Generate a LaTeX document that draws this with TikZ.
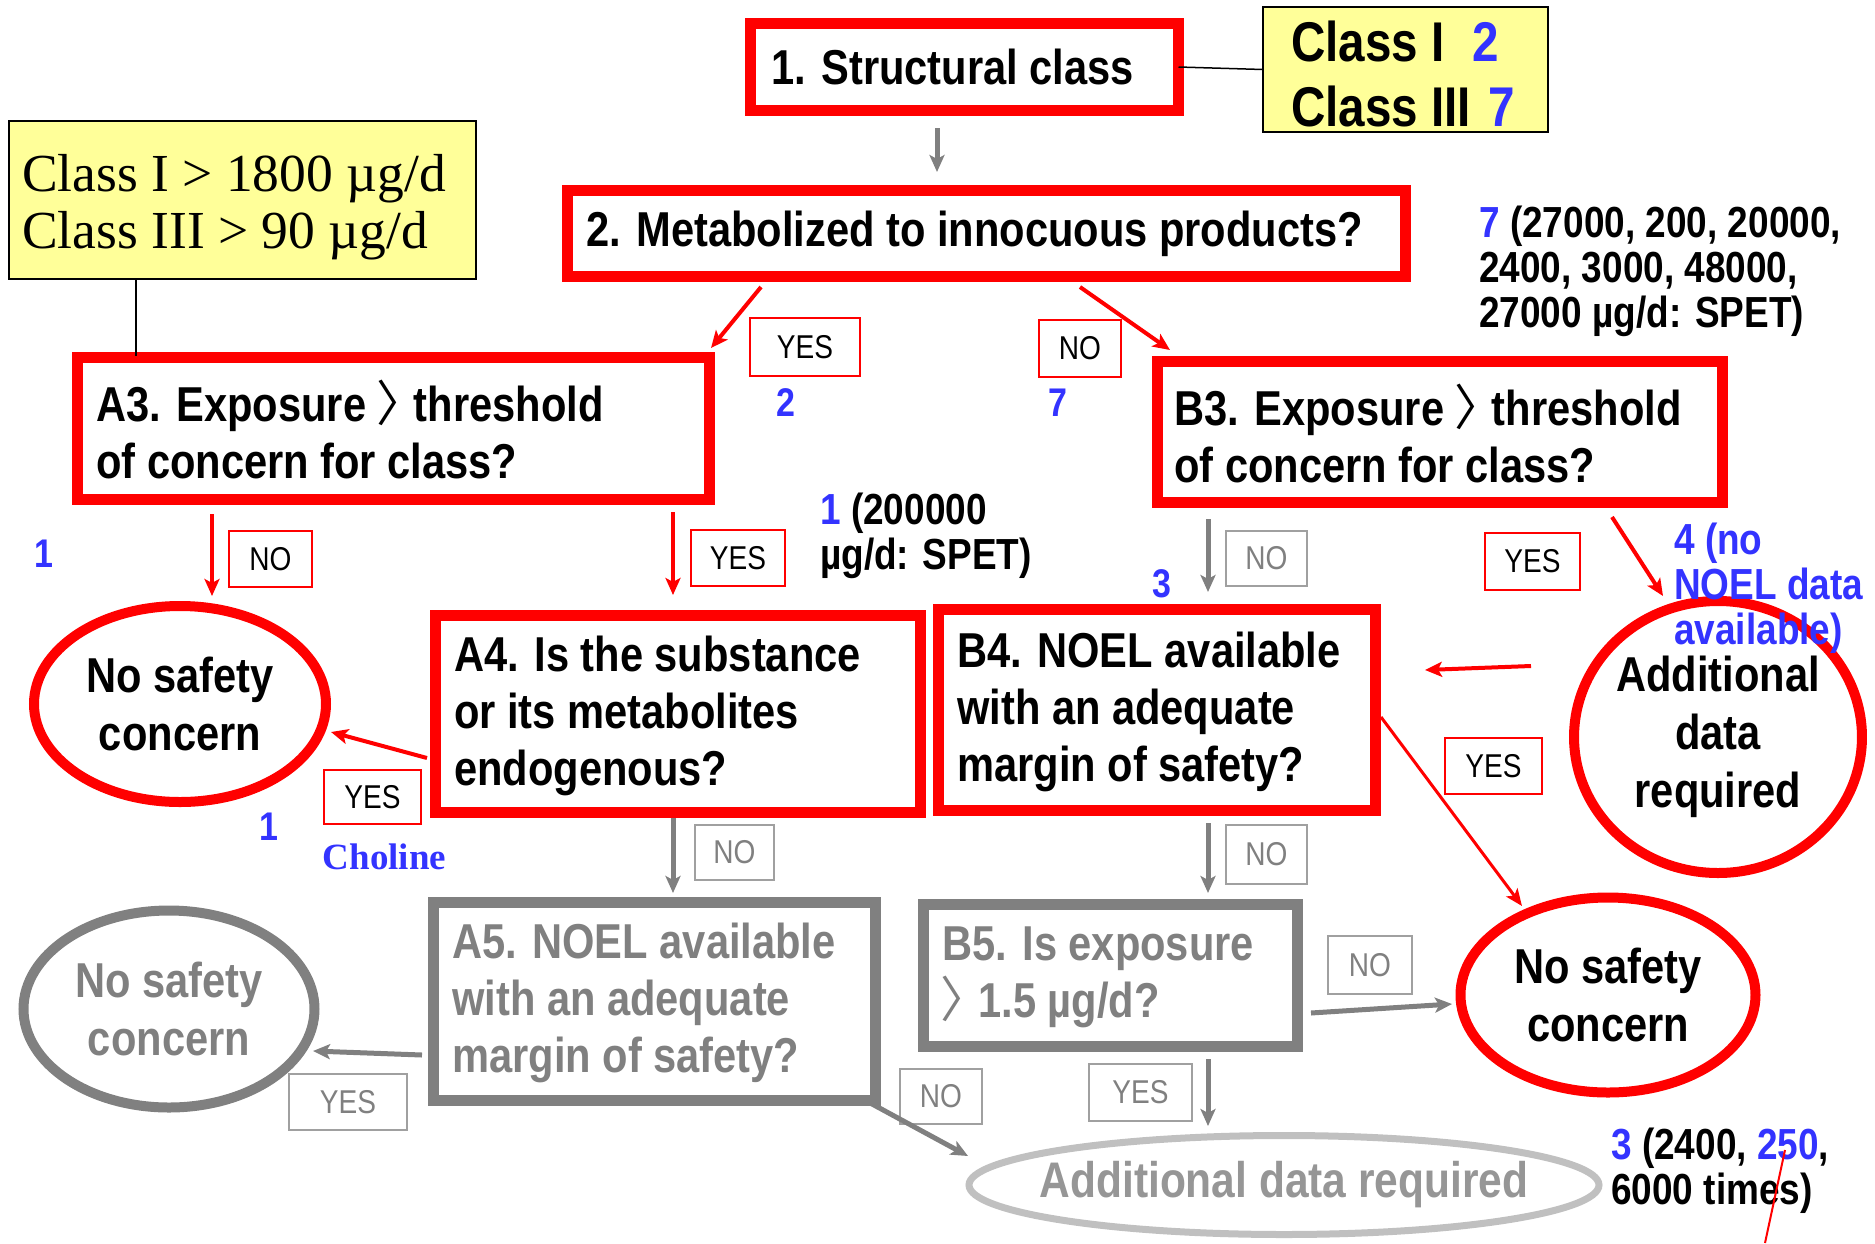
\documentclass[tikz,border=0pt]{standalone}
\usepackage{fontspec}
\setmainfont{Liberation Sans}[FakeStretch=0.85]
\newfontfamily\serifff{Liberation Serif}
\newfontfamily\cjkf{Noto Sans CJK JP}[RawFeature=+palt]
\usetikzlibrary{arrows.meta,shapes.geometric}
\definecolor{ared}{RGB}{255,0,0}
\definecolor{agray}{RGB}{128,128,128}
\definecolor{lgray}{RGB}{192,192,192}
\definecolor{labgray}{RGB}{160,160,160}
\definecolor{bgtext}{RGB}{150,150,150}
\definecolor{ablue}{RGB}{51,51,255}
\definecolor{ayellow}{RGB}{255,255,153}
\newcommand{\myangle}{{\cjkf\mdseries 〉}}
\tikzset{
  redbox/.style={draw=ared, line width=11pt, fill=white, inner sep=0pt, outer sep=0pt},
  graybox/.style={draw=agray, line width=11pt, fill=white, inner sep=0pt, outer sep=0pt},
  btext/.style={inner sep=0pt, align=left, anchor=west, font={\bfseries\fontsize{49}{57}\selectfont}},
  gtext/.style={btext, text=agray},
  redlab/.style={draw=ared, line width=2.5pt, inner sep=0pt, font={\fontsize{33}{33}\selectfont}},
  graylab/.style={draw=labgray, line width=2.5pt, inner sep=0pt, text=agray, font={\fontsize{33}{33}\selectfont}},
  redell/.style={draw=ared, line width=10pt, ellipse, inner sep=0pt, align=center, font={\bfseries\fontsize{49}{58}\selectfont}},
  grayell/.style={draw=agray, line width=10pt, ellipse, inner sep=0pt, align=center, text=agray, font={\bfseries\fontsize{49}{58}\selectfont}},
  redarr/.style={draw=ared, line width=4pt, -{Stealth[length=17pt,width=15pt,inset=4pt]}},
  thinredarr/.style={draw=ared, line width=3pt, -{Stealth[length=17pt,width=14pt,inset=4pt]}},
  grayarr/.style={draw=agray, line width=5pt, -{Stealth[length=17pt,width=15pt,inset=4pt]}},
  bluenum/.style={text=ablue, inner sep=0pt, font={\bfseries\fontsize{40}{40}\selectfont}},
  notetext/.style={inner sep=0pt, align=left, anchor=west, font={\bfseries\fontsize{43.5}{45}\selectfont}},
  yelbox/.style={draw=black, line width=2pt, fill=ayellow, inner sep=0pt, outer sep=0pt}
}
\begin{document}
\begin{tikzpicture}[x=1pt, y=-1pt]
\useasboundingbox (0,0) rectangle (1875,1243);

% yellow info boxes
\node[yelbox, minimum width=285pt, minimum height=125pt] (classbox) at (1405.5,69.5) {};
\node[inner sep=0pt, align=left, anchor=west, font={\bfseries\fontsize{56}{65}\selectfont}] (classtxt) at (1291,73.5)
  {Class I\hspace{28pt}\textcolor{ablue}{2}\\Class III\hspace{17pt}\textcolor{ablue}{7}};
\node[yelbox, minimum width=467pt, minimum height=158pt] (thrbox) at (242.5,200) {};
\node[inner sep=0pt, align=left, anchor=west, font={\serifff\fontsize{53.5}{57}\selectfont}] (thrtxt) at (22,207)
  {Class I > 1800 µg/d\\Class III > 90 µg/d};

% main boxes
\node[redbox, minimum width=428pt, minimum height=87pt] (struct) at (964.5,67) {};
\node[btext] (structt) at (771,67) {1. Structural class};
\node[redbox, minimum width=838pt, minimum height=86pt] (metab) at (986.5,233.5) {};
\node[btext] (metabt) at (586,233.5) {2. Metabolized to innocuous products?};
\node[redbox, minimum width=632pt, minimum height=142pt] (a3) at (393.5,428.5) {};
\node[btext] (a3t) at (96,430) {A3. Exposure \myangle{} threshold\\of concern for class?};
\node[redbox, minimum width=565pt, minimum height=141pt] (b3) at (1440,432) {};
\node[btext] (b3t) at (1174,434) {B3. Exposure \myangle{} threshold\\of concern for class?};
\node[redbox, minimum width=485pt, minimum height=197pt] (a4) at (678,714) {};
\node[btext] (a4t) at (454,716) {A4. Is the substance\\or its metabolites\\endogenous?};
\node[redbox, minimum width=437pt, minimum height=201pt] (b4) at (1157,710) {};
\node[btext] (b4t) at (957,712) {B4. NOEL available\\with an adequate\\margin of safety?};
\node[graybox, minimum width=442pt, minimum height=198pt] (a5) at (654.5,1001.5) {};
\node[gtext] (a5t) at (452,1003) {A5. NOEL available\\with an adequate\\margin of safety?};
\node[graybox, minimum width=374pt, minimum height=142pt] (b5) at (1110.5,975.5) {};
\node[gtext] (b5t) at (942,977) {B5. Is exposure\\\myangle{} 1.5 µg/d?};

% ellipses
\node[redell, minimum width=292pt, minimum height=196pt] (nsc1) at (180,704) {No safety\\concern};
\node[grayell, minimum width=291pt, minimum height=197pt] (nsc2) at (169,1009) {No safety\\concern};
\node[redell, minimum width=270pt, minimum height=272pt] (adr) at (1718,737) {Additional\\data\\required};
\node[redell, minimum width=295pt, minimum height=195pt] (nsc3) at (1608,995) {No safety\\concern};
\node[draw=lgray, line width=7pt, ellipse, inner sep=0pt, minimum width=630pt, minimum height=99pt] (adg) at (1284,1185) {};
\node[inner sep=0pt, text=bgtext, font={\bfseries\fontsize{50}{50}\selectfont}] (adgt) at (adg.center) {Additional data required};

% plain connector lines
\draw[black, line width=1.5pt] (struct.east) -- (classbox.west);
\coordinate (thrfoot) at (136,280);
\coordinate (a3head) at (136,356);
\draw[black, line width=1.5pt] (thrfoot) -- (a3head);

% labels
\node[redlab, minimum width=110pt, minimum height=58pt] (l1) at (805,347) {YES};
\node[redlab, minimum width=82pt, minimum height=57pt] (l2) at (1080,348.5) {NO};
\node[redlab, minimum width=83pt, minimum height=56pt] (l3) at (270.5,559) {NO};
\node[redlab, minimum width=94pt, minimum height=56pt] (l4) at (738,558) {YES};
\node[redlab, minimum width=97pt, minimum height=54pt] (l5) at (372.5,797) {YES};
\node[graylab, minimum width=79pt, minimum height=55pt] (l6) at (734.5,852.5) {NO};
\node[graylab, minimum width=118pt, minimum height=56pt] (l7) at (348,1102) {YES};
\node[graylab, minimum width=82pt, minimum height=55pt] (l8) at (941,1096.5) {NO};
\node[graylab, minimum width=81pt, minimum height=55pt] (l9) at (1266.5,558.5) {NO};
\node[redlab, minimum width=95pt, minimum height=57pt] (l10) at (1532.5,561.5) {YES};
\node[redlab, minimum width=97pt, minimum height=56pt] (l11) at (1493.5,766) {YES};
\node[graylab, minimum width=81pt, minimum height=59pt] (l12) at (1266.5,854.5) {NO};
\node[graylab, minimum width=84pt, minimum height=58pt] (l13) at (1370,965) {NO};
\node[graylab, minimum width=103pt, minimum height=57pt] (l14) at (1140.5,1092.5) {YES};

% arrow end points
\coordinate (g1a) at (937,128);   \coordinate (g1b) at (937,172);
\coordinate (r1a) at (761,287);   \coordinate (r1b) at (711,348);
\coordinate (r2a) at (1080,287);  \coordinate (r2b) at (1170,350);
\coordinate (r3a) at (212,514);   \coordinate (r3b) at (212,596);
\coordinate (r4a) at (673,512);   \coordinate (r4b) at (673,595);
\coordinate (r5a) at (427,758);   \coordinate (r5b) at (331,732);
\coordinate (g2a) at (673,818);   \coordinate (g2b) at (673,893);
\coordinate (g3a) at (422,1055);  \coordinate (g3b) at (313,1051);
\coordinate (g4a) at (861,1098);  \coordinate (g4b) at (968,1156);
\coordinate (g5a) at (1208,519);  \coordinate (g5b) at (1208,592);
\coordinate (r6a) at (1612,517);  \coordinate (r6b) at (1663,596);
\coordinate (r7a) at (1531,666);  \coordinate (r7b) at (1425,670);
\coordinate (r8a) at (1381,717);  \coordinate (r8b) at (1522,906);
\coordinate (g6a) at (1208,823);  \coordinate (g6b) at (1208,893);
\coordinate (g7a) at (1311,1013); \coordinate (g7b) at (1452,1004);
\coordinate (g8a) at (1208,1059); \coordinate (g8b) at (1208,1126);

\draw[grayarr] (g1a) -- (g1b);
\draw[redarr] (r1a) -- (r1b);
\draw[redarr] (r2a) -- (r2b);
\draw[redarr] (r3a) -- (r3b);
\draw[redarr] (r4a) -- (r4b);
\draw[redarr] (r5a) -- (r5b);
\draw[grayarr] (g2a) -- (g2b);
\draw[grayarr] (g3a) -- (g3b);
\draw[grayarr] (g4a) -- (g4b);
\draw[grayarr] (g5a) -- (g5b);
\draw[redarr] (r6a) -- (r6b);
\draw[redarr] (r7a) -- (r7b);
\draw[thinredarr] (r8a) -- (r8b);
\draw[grayarr] (g6a) -- (g6b);
\draw[grayarr] (g7a) -- (g7b);
\draw[grayarr] (g8a) -- (g8b);

% blue counts
\node[bluenum] (n2) at (786,403) {2};
\node[bluenum] (n7) at (1058,403) {7};
\node[bluenum] (n1a) at (44,554) {1};
\node[bluenum] (n1b) at (269,827) {1};
\node[bluenum] (n3) at (1162,584) {3};
\node[inner sep=0pt, text=ablue, font={\serifff\bfseries\fontsize{37}{37}\selectfont}] (chol) at (384.5,857) {Choline};

% notes
\node[notetext] (note7) at (1479,271) {\textcolor{ablue}{7} (27000, 200, 20000,\\2400, 3000, 48000,\\27000 µg/d: SPET)};
\node[notetext] (note1) at (820,535.5) {\textcolor{ablue}{1} (200000\\µg/d: SPET)};
\node[notetext, text=ablue] (note4) at (1674,588) {4 (no\\NOEL data\\available)};
\node[notetext] (note3) at (1611,1170.5) {\textcolor{ablue}{3} (2400, \textcolor{ablue}{250},\\6000 times)};

\coordinate (strkA) at (1785,1150);
\coordinate (strkB) at (1765,1243);
\draw[ared, line width=2pt] (strkA) -- (strkB);
\end{tikzpicture}
\end{document}
